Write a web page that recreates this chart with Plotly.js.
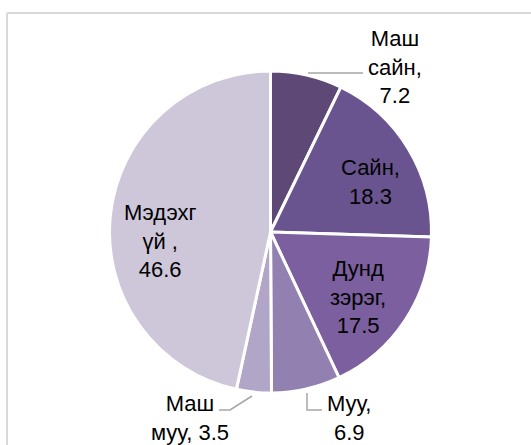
<!DOCTYPE html>
<html>
<head>
<meta charset="utf-8">
<script src="https://cdn.plot.ly/plotly-3.0.1.min.js"></script>
<style>html,body{margin:0;padding:0;background:#fff;}#chart{width:531px;height:445px;}</style>
</head>
<body>
<div id="chart"></div>
<script>
// Data
const categories = ['Маш сайн', 'Сайн', 'Дунд зэрэг', 'Муу', 'Маш муу', 'Мэдэхгүй'];
const values = [7.2, 18.3, 17.5, 6.9, 3.5, 46.6];
// Label wrapping as displayed in the reference
const labelPrefix = ['Маш<br>сайн,<br>', 'Сайн,<br>', 'Дунд<br>зэрэг,<br>', 'Муу,<br>', 'Маш<br>муу, ', 'Мэдэхг<br>үй ,<br>'];

// Styles / positions
const colors = ['#5d4876', '#6a5490', '#7b5f9e', '#9280b0', '#b1a6c7', '#cec7da'];
const W = 531, H = 445;
const px = x => x / W;
const py = y => 1 - y / H;
const labelPos = [[395, 67], [370, 182], [358, 297], [349, 418], [190, 418], [160, 241]];

const annotations = categories.map((c, i) => ({
  xref: 'paper', yref: 'paper',
  x: px(labelPos[i][0]), y: py(labelPos[i][1]),
  xanchor: 'center', yanchor: 'middle',
  text: labelPrefix[i] + values[i].toFixed(1),
  showarrow: false,
  font: {family: 'Liberation Sans, Arial, sans-serif', size: 22, color: '#000'},
  align: 'center'
}));

const lineStyle = {color: '#a6a6a6', width: 1.5};
const shapes = [
  // chart-area border (top and left)
  {type: 'line', xref: 'paper', yref: 'paper', x0: px(7), y0: py(13), x1: px(545), y1: py(13), line: {color: '#d9d9d9', width: 2}},
  {type: 'line', xref: 'paper', yref: 'paper', x0: px(7), y0: py(13), x1: px(7), y1: py(460), line: {color: '#d9d9d9', width: 2}},
  // leader lines
  {type: 'path', xref: 'paper', yref: 'paper', path: `M ${px(308)} ${py(73)} L ${px(363)} ${py(73)}`, line: lineStyle},
  {type: 'path', xref: 'paper', yref: 'paper', path: `M ${px(307)} ${py(393)} L ${px(307)} ${py(410)} L ${px(322)} ${py(410)}`, line: lineStyle},
  {type: 'path', xref: 'paper', yref: 'paper', path: `M ${px(252)} ${py(396)} L ${px(230)} ${py(410)} L ${px(219)} ${py(410)}`, line: lineStyle}
];

const trace = {
  type: 'pie',
  labels: categories,
  values: values,
  sort: false,
  direction: 'clockwise',
  rotation: 0,
  marker: {colors: colors, line: {color: '#ffffff', width: 3}},
  textinfo: 'none',
  hoverinfo: 'label+value',
  showlegend: false,
  domain: {x: [px(109), px(432)], y: [py(393), py(71)]}
};

const layout = {
  width: W, height: H,
  margin: {l: 0, r: 0, t: 0, b: 0},
  paper_bgcolor: '#ffffff',
  plot_bgcolor: '#ffffff',
  showlegend: false,
  annotations: annotations,
  shapes: shapes
};

Plotly.newPlot('chart', [trace], layout, {displayModeBar: false, staticPlot: true});
</script>
</body>
</html>
